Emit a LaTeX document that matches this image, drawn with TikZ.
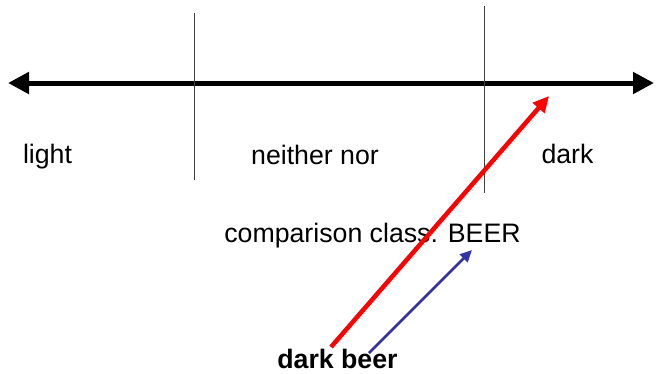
\documentclass[tikz,border=0pt]{standalone}
\usepackage{fontspec}
\setmainfont{Liberation Sans}
\usetikzlibrary{arrows.meta}

\tikzset{
    lbl/.style={inner sep=0pt, anchor=base, font=\fontsize{26.7}{32}\selectfont},
    divider/.style={line width=1pt, black!75},
    scale axis/.style={line width=5pt, {Triangle[length=21pt, width=21pt]}-{Triangle[length=21pt, width=21pt]}},
    red arrow/.style={line width=4.5pt, red, -{Triangle[length=16pt, width=15pt]}},
    blue arrow/.style={line width=2.5pt, blue!55!black!80, -{Triangle[length=12pt, width=11pt]}}
}

\begin{document}
\begin{tikzpicture}[x=1pt, y=-1pt]
    \useasboundingbox (0,0) rectangle (662,373);

    % the dark/light scale
    \coordinate (axisL) at (8,83);
    \coordinate (axisR) at (654,83);
    \draw[scale axis] (axisL) -- (axisR);

    \coordinate (div1top) at (194,13);
    \coordinate (div1bot) at (194,180);
    \coordinate (div2top) at (484,6);
    \coordinate (div2bot) at (484,193);
    \draw[divider] (div1top) -- (div1bot);
    \draw[divider] (div2top) -- (div2bot);

    \node[lbl] (light) at (47.5,163) {light};
    \node[lbl] (neither) at (315,164) {neither nor};
    \node[lbl] (dark) at (567.5,163) {dark};

    \node[lbl] (class) at (372.5,242) {comparison class: BEER};
    \node[lbl, font=\fontsize{26.7}{32}\selectfont\bfseries] (darkbeer) at (337.5,368.5) {dark beer};

    % arrows from the phrase
    \coordinate (redtail) at (331,347);
    \coordinate (redtip) at (549,96);
    \coordinate (bluetail) at (369,353);
    \coordinate (bluetip) at (472,250);
    \draw[red arrow] (redtail) -- (redtip);
    \draw[blue arrow] (bluetail) -- (bluetip);
\end{tikzpicture}
\end{document}
